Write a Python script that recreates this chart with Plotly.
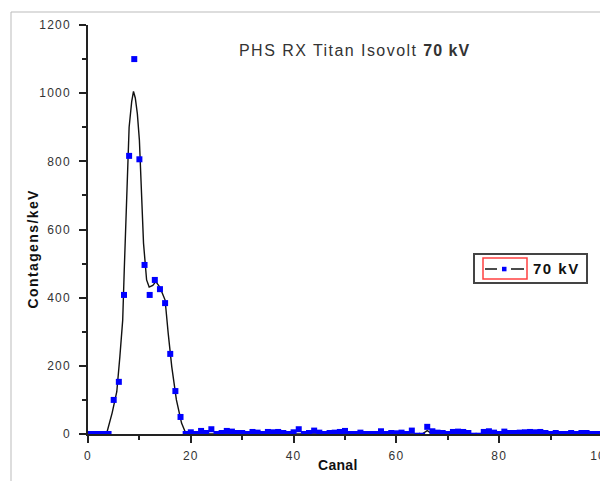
import plotly.graph_objects as go

# ---- data ----
channels = list(range(0, 101))
counts = [
    0, 0, 0, 0, 0, 100, 153, 408, 816, 1100,          # 0-9
    806, 496, 408, 452, 425, 384, 235, 126, 50, 0,    # 10-19
    5, 0, 9, 3, 14, 0, 3, 9, 7, 3,                    # 20-29
    3, 0, 6, 4, 0, 6, 5, 6, 3, 0,                     # 30-39
    5, 14, 0, 3, 10, 4, 0, 3, 4, 6,                   # 40-49
    9, 0, 0, 4, 0, 0, 0, 8, 0, 3,                     # 50-59
    2, 4, 0, 10, -5, -5, 21, 8, 4, 3,                 # 60-69
    0, 6, 7, 6, 3, -5, -5, 6, 8, 4,                   # 70-79
    0, 7, 3, 3, 4, 5, 6, 5, 6, 3,                     # 80-89
    0, 3, 0, 0, 3, 0, 3, 3, 0, 0,                     # 90-99
    0,                                                # 100
]

fit_x = [0, 3.6, 4.7, 5.6, 6.2, 6.75, 7.05, 7.45, 8.0, 8.5, 8.85, 9.2, 9.6,
         10.0, 10.4, 10.8, 11.4, 11.9, 12.6, 13.2, 14.0, 15.0, 15.6, 16.3,
         17.2, 18.2, 19.0, 19.6, 65.0, 66.0, 67.0, 100]
fit_y = [0, 0, 62, 124, 227, 334, 480, 660, 900, 975, 1005, 986, 940,
         862, 700, 560, 452, 431, 436, 447, 430, 393, 296, 197,
         100, 32, 3, 0, 0, 10, 0, 0]

x_ticks = [0, 20, 40, 60, 80, 100]
y_ticks = [0, 200, 400, 600, 800, 1000, 1200]

title_plain = "PHS RX Titan Isovolt "
title_bold = "70 kV"
x_title = "Canal"
y_title = "Contagens/keV"
legend_label = "70 kV"

# ---- figure (page body has an 8px default margin at top/left) ----
OFF = 8
W, H = 608 - OFF, 481 - OFF
L, R, T, B = 88 - OFF, 6, 25 - OFF, 47
PW, PH = W - L - R, H - T - B

def px(x):
    return (x - OFF - L) / PW

def py(y):
    return (H - B - (y - OFF)) / PH

def spaced(s, ls):
    return f'<span style="letter-spacing:{ls}px">{s}</span>'

FONT = "Liberation Sans, Arial, sans-serif"
AX = "#222222"

fig = go.Figure()
fig.add_trace(go.Scatter(x=fit_x, y=fit_y, mode="lines",
                         line=dict(color="#111111", width=1.4),
                         showlegend=False, hoverinfo="skip"))
fig.add_trace(go.Scatter(x=channels, y=counts, mode="markers",
                         marker=dict(symbol="square", size=6, color="#0000ff",
                                     line=dict(width=0)),
                         name=legend_label, showlegend=False))

axis_common = dict(showline=True, linecolor=AX, linewidth=1.5, ticks="outside",
                   tickcolor=AX, tickwidth=1.5, ticklen=7, showgrid=False,
                   zeroline=False, automargin=False,
                   tickfont=dict(family=FONT, size=12, color="#333333"))

fig.update_xaxes(range=[0, 100], tickvals=x_ticks,
                 ticktext=[spaced(str(v), 1.2) for v in x_ticks], ticklabelstandoff=3,
                 ticklabeloverflow="allow",
                 minor=dict(dtick=10, ticklen=4, tickwidth=1.5, tickcolor=AX, ticks="outside"),
                 **axis_common)
fig.update_yaxes(range=[0, 1200], tickvals=y_ticks,
                 ticktext=[spaced(str(v), 1.2) for v in y_ticks], ticklabelstandoff=6,
                 ticklabeloverflow="allow",
                 minor=dict(dtick=100, ticklen=4, tickwidth=1.5, tickcolor=AX, ticks="outside"),
                 **axis_common)

shapes = []
# page frame lines
shapes.append(dict(type="line", xref="paper", yref="paper",
                   x0=px(11), x1=px(11), y0=py(12), y1=py(481),
                   line=dict(color="#bbbbbb", width=1)))
shapes.append(dict(type="line", xref="paper", yref="paper",
                   x0=px(11), x1=px(608), y0=py(12), y1=py(12),
                   line=dict(color="#bbbbbb", width=1)))
# legend box
shapes.append(dict(type="rect", xref="paper", yref="paper",
                   x0=px(474), x1=px(587), y0=py(254), y1=py(283),
                   line=dict(color="#444444", width=2), fillcolor="white"))
shapes.append(dict(type="rect", xref="paper", yref="paper",
                   x0=px(483), x1=px(527), y0=py(258), y1=py(279),
                   line=dict(color="#ff4040", width=1.5)))
shapes.append(dict(type="line", xref="paper", yref="paper",
                   x0=px(485), x1=px(497), y0=py(269), y1=py(269),
                   line=dict(color="#111111", width=1.5)))
shapes.append(dict(type="line", xref="paper", yref="paper",
                   x0=px(511), x1=px(524), y0=py(269), y1=py(269),
                   line=dict(color="#111111", width=1.5)))
shapes.append(dict(type="rect", xref="paper", yref="paper",
                   x0=px(502), x1=px(506.5), y0=py(266.8), y1=py(271.3),
                   line=dict(width=0), fillcolor="#0000ff"))

annotations = [
    dict(text=spaced(title_plain, 1.45) + "<b>" + spaced(title_bold, 1.0) + "</b>",
         xref="paper", yref="paper",
         x=px(237), y=py(51), xanchor="left", yanchor="middle", showarrow=False,
         font=dict(family=FONT, size=16, color="#333333")),
    dict(text="<b>" + spaced(x_title, 0.3) + "</b>", xref="paper", yref="paper",
         x=px(337.5), y=py(465), xanchor="center", yanchor="middle", showarrow=False,
         font=dict(family=FONT, size=14, color="#111111")),
    dict(text="<b>" + spaced(y_title, 1.4) + "</b>", xref="paper", yref="paper", textangle=-90,
         x=px(32.5), y=py(249), xanchor="center", yanchor="middle", showarrow=False,
         font=dict(family=FONT, size=14, color="#111111")),
    dict(text="<b>" + spaced(legend_label, 1.5) + "</b>", xref="paper", yref="paper",
         x=px(531), y=py(268.5), xanchor="left", yanchor="middle", showarrow=False,
         font=dict(family=FONT, size=15, color="#111111")),
]

fig.update_layout(width=W, height=H,
                  margin=dict(l=L, r=R, t=T, b=B, autoexpand=False),
                  paper_bgcolor="white", plot_bgcolor="white",
                  showlegend=False, shapes=shapes, annotations=annotations,
                  font=dict(family=FONT))

fig.write_html("out.html")
